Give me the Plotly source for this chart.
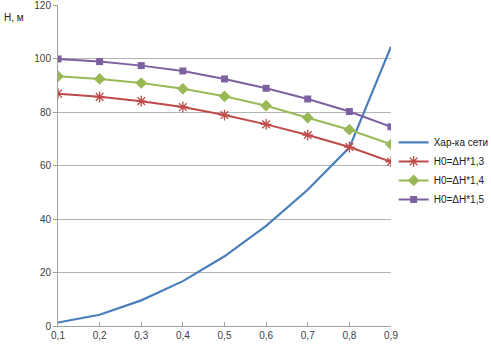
import plotly.graph_objects as go

q = [0.1, 0.2, 0.3, 0.4, 0.5, 0.6, 0.7, 0.8, 0.9]
q_labels = ["0,1", "0,2", "0,3", "0,4", "0,5", "0,6", "0,7", "0,8", "0,9"]
net = [1.3, 4.2, 9.6, 16.8, 26.1, 37.5, 51.0, 66.8, 104.6]
h13 = [87.0, 85.8, 84.2, 82.0, 79.0, 75.5, 71.5, 67.0, 61.5]
h14 = [93.5, 92.5, 91.0, 88.8, 86.0, 82.5, 78.0, 73.5, 68.0]
h15 = [100.0, 99.0, 97.5, 95.5, 92.5, 89.0, 85.0, 80.3, 74.6]
names = ["Хар-ка сети", "H0=ΔH*1,3", "H0=ΔH*1,4", "H0=ΔH*1,5"]
y_ticks = [0, 20, 40, 60, 80, 100, 120]

fig = go.Figure()
fig.add_trace(go.Scatter(x=q, y=net, name=names[0], mode="lines",
                         line=dict(color="#4A7EBB", width=2.2)))
fig.add_trace(go.Scatter(x=q, y=h13, name=names[1], mode="lines+markers",
                         line=dict(color="#BE4B48", width=2),
                         marker=dict(symbol="asterisk-open", size=9,
                                     line=dict(color="#BE4B48", width=1.3))))
fig.add_trace(go.Scatter(x=q, y=h14, name=names[2], mode="lines+markers",
                         line=dict(color="#98B954", width=2),
                         marker=dict(symbol="diamond", size=9, color="#98B954")))
fig.add_trace(go.Scatter(x=q, y=h15, name=names[3], mode="lines+markers",
                         line=dict(color="#7D60A0", width=2),
                         marker=dict(symbol="square", size=7, color="#7D60A0")))

fig.update_layout(
    width=491, height=345,
    margin=dict(l=58, r=100, t=5, b=19, autoexpand=False),
    paper_bgcolor="white", plot_bgcolor="white",
    font=dict(family="Liberation Sans", size=10, color="#404040"),
    legend=dict(x=1.008, y=0.617, xanchor="left", yanchor="top",
                font=dict(size=10, color="#202020"),
                tracegroupgap=0, itemwidth=30, bgcolor="rgba(0,0,0,0)"),
    xaxis=dict(range=[0.1, 0.9], tickvals=q, ticktext=q_labels,
               showgrid=False, showline=True, linecolor="#a0a0a0", linewidth=1,
               ticks="inside", ticklen=4, tickcolor="#a0a0a0", zeroline=False,
               fixedrange=True),
    yaxis=dict(range=[0, 120.2], tickvals=y_ticks,
               showgrid=True, gridcolor="#b4b4b4", gridwidth=1,
               showline=True, linecolor="#a0a0a0", linewidth=1,
               ticks="outside", ticklen=4, tickcolor="#a0a0a0", zeroline=False,
               fixedrange=True),
    annotations=[dict(text="H, м", xref="paper", yref="paper",
                      x=-56/333, y=0.985, xanchor="left", yanchor="top",
                      showarrow=False, font=dict(size=10, color="#202020"))],
)

fig.write_html("out.html")
